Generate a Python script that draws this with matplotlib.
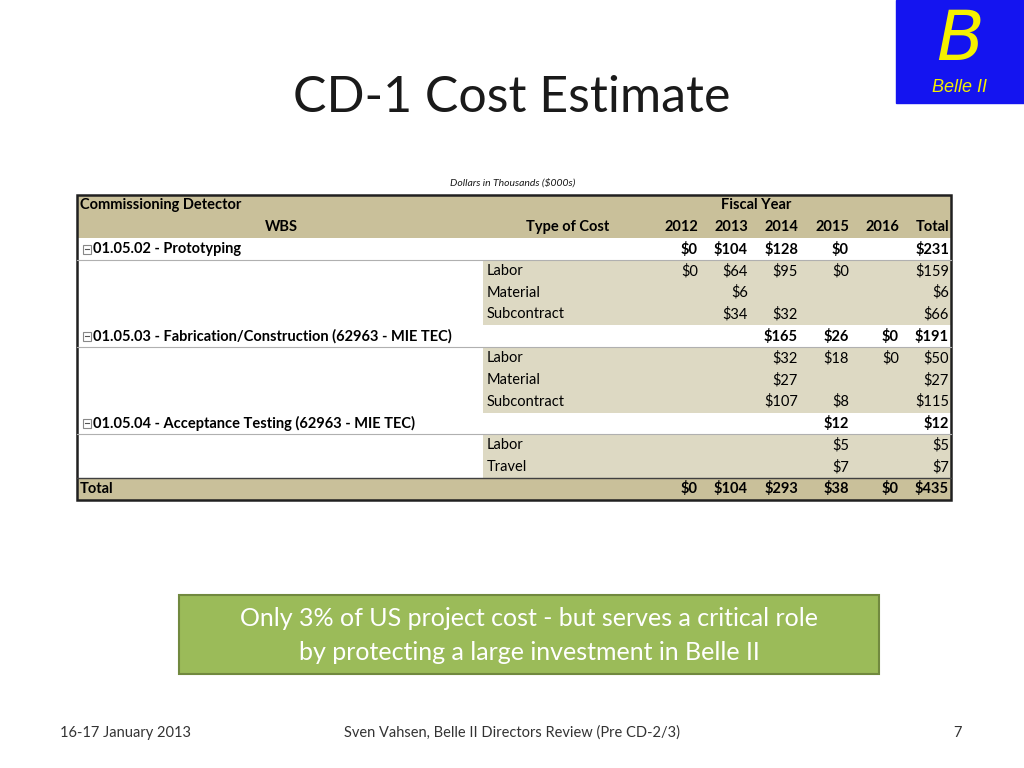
import matplotlib
matplotlib.use("Agg")
import matplotlib.pyplot as plt
from matplotlib.patches import Rectangle

years = ["2012", "2013", "2014", "2015", "2016", "Total"]
# rows: (kind, label, values per year column)
row_kinds = ["group", "item", "item", "item", "group", "item", "item", "item", "group", "item", "item", "total"]
row_labels = ["01.05.02 - Prototyping", "Labor", "Material", "Subcontract",
              "01.05.03 - Fabrication/Construction (62963 - MIE TEC)", "Labor", "Material", "Subcontract",
              "01.05.04 - Acceptance Testing (62963 - MIE TEC)", "Labor", "Travel", "Total"]
row_values = [
    ["$0", "$104", "$128", "$0", "", "$231"],
    ["$0", "$64", "$95", "$0", "", "$159"],
    ["", "$6", "", "", "", "$6"],
    ["", "$34", "$32", "", "", "$66"],
    ["", "", "$165", "$26", "$0", "$191"],
    ["", "", "$32", "$18", "$0", "$50"],
    ["", "", "$27", "", "", "$27"],
    ["", "", "$107", "$8", "", "$115"],
    ["", "", "", "$12", "", "$12"],
    ["", "", "", "$5", "", "$5"],
    ["", "", "", "$7", "", "$7"],
    ["$0", "$104", "$293", "$38", "$0", "$435"],
]

fig = plt.figure(figsize=(10.24, 7.68), dpi=100)
ax = fig.add_axes([0, 0, 1, 1])
ax.set_xlim(0, 1024); ax.set_ylim(768, 0); ax.axis("off")

F = "Lato"
TF = "Lato"
TS = 10.5
dark = "#1a1a1a"
tan = "#c9c09a"
light = "#ddd9c3"

# logo
ax.add_patch(Rectangle((896, 0), 128, 103, color="#1414f0"))
ax.text(960, 40, "B", color="#f5f000", fontsize=50, fontstyle="italic", family="DejaVu Sans",
        ha="center", va="center")
ax.text(960, 88, "Belle II", color="#f5f000", fontsize=13, fontstyle="italic", family="Liberation Sans",
        ha="center", va="center")

ax.text(512, 98, "CD-1 Cost Estimate", fontsize=36, family=F, color=dark, ha="center", va="center")
ax.text(513, 183, "Dollars in Thousands ($000s)", fontsize=7.5, fontstyle="italic", family=F,
        color=dark, ha="center", va="center")

x0, x1 = 77, 951
top = 194.5
rh = 21.8
col_right = [698, 748, 798, 849, 899, 949]

# header
ax.add_patch(Rectangle((x0, top), x1 - x0, 2 * rh, color=tan, lw=0))
ax.text(80, top + rh / 2, "Commissioning Detector", fontsize=TS, family=TF, weight="bold", va="center")
ax.text(756, top + rh / 2, "Fiscal Year", fontsize=TS, family=TF, weight="bold", va="center", ha="center")
ax.text(281, top + 1.5 * rh, "WBS", fontsize=TS, family=TF, weight="bold", va="center", ha="center")
ax.text(609, top + 1.5 * rh, "Type of Cost", fontsize=TS, family=TF, weight="bold", va="center", ha="right")
for y, xr in zip(years, col_right):
    ax.text(xr, top + 1.5 * rh, y, fontsize=TS, family=TF, weight="bold", va="center", ha="right")

for i, (k, lab, vals) in enumerate(zip(row_kinds, row_labels, row_values)):
    yt = top + (i + 2) * rh
    yc = yt + rh / 2
    bold = k != "item"
    if k == "item":
        ax.add_patch(Rectangle((483, yt), x1 - 483, rh, color=light, lw=0))
        ax.text(487, yc, lab, fontsize=TS, family=TF, va="center")
    elif k == "group":
        ax.add_patch(Rectangle((83, yc - 4.5), 8, 9, fill=False, ec="#888888", lw=0.8))
        ax.plot([85, 89], [yc, yc], color="#555555", lw=0.8)
        ax.text(93, yc, lab, fontsize=TS, family=TF, weight="bold", va="center")
        ax.plot([x0, x1], [yt + rh, yt + rh], color="#b0b0b0", lw=0.8)
    else:
        ax.add_patch(Rectangle((x0, yt), x1 - x0, rh, color=tan, lw=0))
        ax.plot([x0, x1], [yt, yt], color="#404040", lw=1)
        ax.text(80, yc, lab, fontsize=TS, family=TF, weight="bold", va="center")
    for v, xr in zip(vals, col_right):
        if v:
            ax.text(xr, yc, v, fontsize=TS, family=TF, weight="bold" if bold else "normal",
                    va="center", ha="right")

bottom = top + 14 * rh
ax.add_patch(Rectangle((x0, top), x1 - x0, bottom - top, fill=False, ec="#202020", lw=1.8))

# green box
ax.add_patch(Rectangle((179, 595), 700, 79, fc="#9bbb59", ec="#71893f", lw=1.5))
ax.text(529, 618, "Only 3% of US project cost - but serves a critical role", fontsize=18,
        family=F, color="white", ha="center", va="center")
ax.text(529, 652, "by protecting a large investment in Belle II", fontsize=18,
        family=F, color="white", ha="center", va="center")

ax.text(60, 733, "16-17 January 2013", fontsize=10.5, family=F, color="#333333", va="center")
ax.text(512, 733, "Sven Vahsen, Belle II Directors Review (Pre CD-2/3)", fontsize=10.5, family=F,
        color="#333333", va="center", ha="center")
ax.text(962, 733, "7", fontsize=10.5, family=F, color="#333333", va="center", ha="right")

fig.savefig("out.png", dpi=100)
